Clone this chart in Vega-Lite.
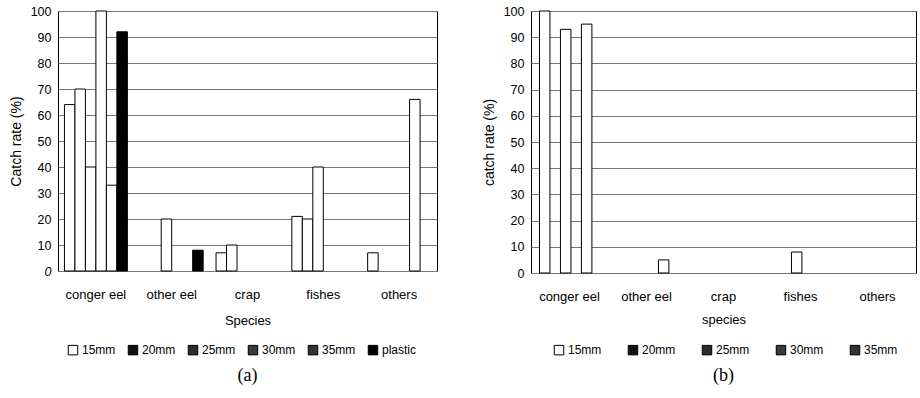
{
  "$schema": "https://vega.github.io/schema/vega-lite/v6.json",
  "padding": {"left": 8, "top": 4, "right": 0, "bottom": 0},
  "background": "#ffffff",
  "config": {
    "font": "Liberation Sans",
    "view": {"stroke": "#000000", "strokeWidth": 1},
    "axis": {"labelColor": "#000000", "titleColor": "#000000", "titleFontWeight": "normal", "labelFont": "Liberation Sans", "titleFont": "Liberation Sans"},
    "legend": {"labelColor": "#000000", "labelFont": "Liberation Sans"}
  },
  "datasets": {
    "a": [
      {"species": "conger eel", "mesh": "15mm", "rate": 64},
      {"species": "conger eel", "mesh": "20mm", "rate": 70},
      {"species": "conger eel", "mesh": "25mm", "rate": 40},
      {"species": "conger eel", "mesh": "30mm", "rate": 100},
      {"species": "conger eel", "mesh": "35mm", "rate": 33},
      {"species": "conger eel", "mesh": "plastic", "rate": 92},
      {"species": "other eel", "mesh": "25mm", "rate": 20},
      {"species": "other eel", "mesh": "plastic", "rate": 8},
      {"species": "crap", "mesh": "15mm", "rate": 7},
      {"species": "crap", "mesh": "20mm", "rate": 10},
      {"species": "fishes", "mesh": "15mm", "rate": 21},
      {"species": "fishes", "mesh": "20mm", "rate": 20},
      {"species": "fishes", "mesh": "25mm", "rate": 40},
      {"species": "others", "mesh": "15mm", "rate": 7},
      {"species": "others", "mesh": "35mm", "rate": 66}
    ],
    "b": [
      {"species": "conger eel", "mesh": "15mm", "rate": 100},
      {"species": "conger eel", "mesh": "25mm", "rate": 93},
      {"species": "conger eel", "mesh": "35mm", "rate": 95},
      {"species": "other eel", "mesh": "35mm", "rate": 5},
      {"species": "fishes", "mesh": "25mm", "rate": 8}
    ]
  },
  "spacing": 43,
  "hconcat": [
    {
      "width": 379,
      "height": 260,
      "data": {"name": "a"},
      "title": {"text": "(a)", "orient": "bottom", "font": "Liberation Serif", "fontSize": 18, "fontWeight": "normal", "color": "#000000", "offset": 10},
      "encoding": {
        "x": {"field": "species", "type": "nominal", "scale": {"domain": ["conger eel", "other eel", "crap", "fishes", "others"], "paddingInner": 0.17, "paddingOuter": 0.085},
          "axis": {"title": "Species", "labelAngle": 0, "labelFontSize": 13, "titleFontSize": 13, "labelPadding": 17, "titlePadding": 13, "ticks": false, "domain": false, "grid": false}},
        "xOffset": {"field": "mesh", "type": "nominal", "scale": {"domain": ["15mm", "20mm", "25mm", "30mm", "35mm", "plastic"], "paddingInner": 0, "paddingOuter": 0}},
        "y": {"field": "rate", "type": "quantitative", "scale": {"domain": [0, 100], "nice": false},
          "axis": {"title": "Catch rate (%)", "values": [0, 10, 20, 30, 40, 50, 60, 70, 80, 90, 100], "labelOverlap": false, "labelFontSize": 12.5, "titleFontSize": 14, "labelPadding": 7, "titlePadding": 7, "ticks": false, "domain": false, "grid": true, "gridColor": "#777777", "gridWidth": 1,
            "labelFontStyle": {"condition": {"test": "datum.value == 0", "value": "italic"}, "value": "normal"}}}
      },
      "layer": [
        {
          "mark": {"type": "bar", "stroke": "#000000", "strokeWidth": 1},
          "encoding": {
            "fill": {"field": "mesh", "type": "nominal", "scale": {"domain": ["15mm", "20mm", "25mm", "30mm", "35mm", "plastic"], "range": ["#ffffff", "#ffffff", "#ffffff", "#ffffff", "#ffffff", "#000000"]}, "legend": null}
          }
        },
        {
          "mark": {"type": "bar", "opacity": 0},
          "encoding": {
            "fill": {"field": "mesh", "type": "nominal", "scale": {"domain": ["15mm", "20mm", "25mm", "30mm", "35mm", "plastic"], "range": ["#ffffff", "#111111", "#2a2a2a", "#3a3a3a", "#333333", "#000000"]},
              "legend": {"title": null, "orient": "none", "legendX": 9, "legendY": 333, "direction": "horizontal", "columns": 6, "symbolType": "square", "symbolSize": 90, "symbolStrokeColor": "#000000", "symbolStrokeWidth": 1, "labelFontSize": 12, "labelOffset": 3, "columnPadding": 10,
                "encode": {"symbols": {"update": {"opacity": {"value": 1}, "stroke": {"value": "#000000"}, "strokeWidth": {"value": 1}}}}}}
          }
        }
      ],
      "resolve": {"scale": {"fill": "independent"}}
    },
    {
      "width": 385,
      "height": 262,
      "data": {"name": "b"},
      "title": {"text": "(b)", "orient": "bottom", "font": "Liberation Serif", "fontSize": 18, "fontWeight": "normal", "color": "#000000", "offset": 10},
      "encoding": {
        "x": {"field": "species", "type": "nominal", "scale": {"domain": ["conger eel", "other eel", "crap", "fishes", "others"], "paddingInner": 0.22, "paddingOuter": 0.11},
          "axis": {"title": "species", "labelAngle": 0, "labelFontSize": 13, "titleFontSize": 13, "labelPadding": 17, "titlePadding": 10, "ticks": false, "domain": false, "grid": false}},
        "xOffset": {"field": "mesh", "type": "nominal", "scale": {"domain": ["15mm", "20mm", "25mm", "30mm", "35mm"], "paddingInner": 0, "paddingOuter": 0}},
        "y": {"field": "rate", "type": "quantitative", "scale": {"domain": [0, 100], "nice": false},
          "axis": {"title": "catch rate (%)", "values": [0, 10, 20, 30, 40, 50, 60, 70, 80, 90, 100], "labelOverlap": false, "labelFontSize": 12.5, "titleFontSize": 14, "labelPadding": 7, "titlePadding": 7, "ticks": false, "domain": false, "grid": true, "gridColor": "#777777", "gridWidth": 1}}
      },
      "layer": [
        {
          "mark": {"type": "bar", "stroke": "#000000", "strokeWidth": 1},
          "encoding": {
            "fill": {"field": "mesh", "type": "nominal", "scale": {"domain": ["15mm", "20mm", "25mm", "30mm", "35mm"], "range": ["#ffffff", "#ffffff", "#ffffff", "#ffffff", "#ffffff"]}, "legend": null}
          }
        },
        {
          "mark": {"type": "bar", "opacity": 0},
          "encoding": {
            "fill": {"field": "mesh", "type": "nominal", "scale": {"domain": ["15mm", "20mm", "25mm", "30mm", "35mm"], "range": ["#ffffff", "#111111", "#2a2a2a", "#3a3a3a", "#333333"]},
              "legend": {"title": null, "orient": "none", "legendX": 22, "legendY": 333, "direction": "horizontal", "columns": 5, "symbolType": "square", "symbolSize": 90, "symbolStrokeColor": "#000000", "symbolStrokeWidth": 1, "labelFontSize": 12, "labelOffset": 3, "columnPadding": 24,
                "encode": {"symbols": {"update": {"opacity": {"value": 1}, "stroke": {"value": "#000000"}, "strokeWidth": {"value": 1}}}}}}
          }
        }
      ],
      "resolve": {"scale": {"fill": "independent"}}
    }
  ]
}
